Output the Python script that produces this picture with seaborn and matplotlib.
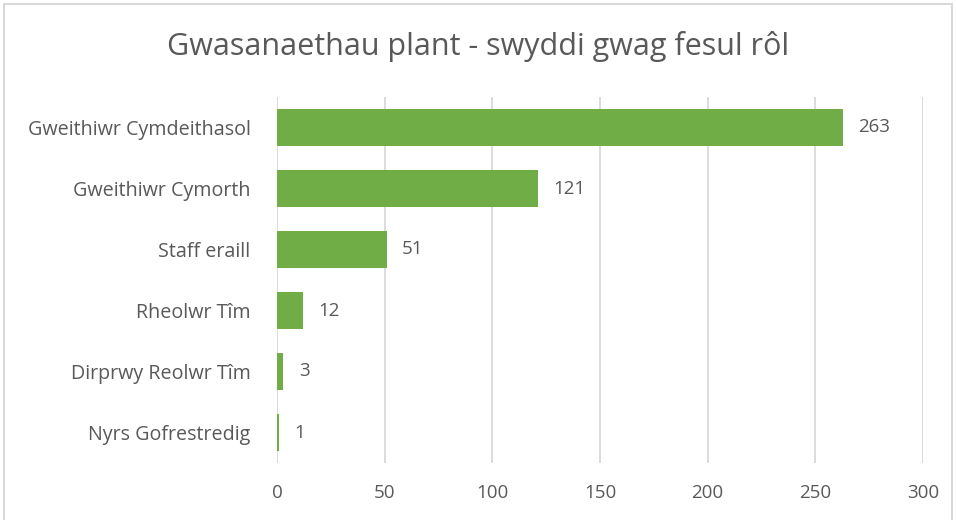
import matplotlib
matplotlib.use("Agg")
import matplotlib.pyplot as plt
import seaborn as sns
import pandas as pd
from matplotlib.patches import Rectangle

roles = ["Gweithiwr Cymdeithasol", "Gweithiwr Cymorth", "Staff eraill",
         "Rheolwr Tîm", "Dirprwy Reolwr Tîm", "Nyrs Gofrestredig"]
vacancies = [263, 121, 51, 12, 3, 1]
x_ticks = [0, 50, 100, 150, 200, 250, 300]

TEXT = "#595959"
GREEN = "#70AD47"
GRID = "#D9D9D9"

sns.set_theme(style="white")
plt.rcParams['font.family'] = ['Open Sans', 'DejaVu Sans']

df = pd.DataFrame({"role": roles, "count": vacancies})

fig = plt.figure(figsize=(9.56, 5.2), dpi=100)
ax = fig.add_axes([277 / 956, 1 - 463 / 520, 646 / 956, 366 / 520])

sns.barplot(data=df, x="count", y="role", color=GREEN, width=0.62,
            saturation=1, ax=ax, order=roles, linewidth=0)

ax.set_xlim(0, 300)
ax.set_xticks(x_ticks)
ax.set_xlabel("")
ax.set_ylabel("")
ax.xaxis.grid(True, color=GRID, linewidth=1.3)
ax.set_axisbelow(True)
sns.despine(ax=ax, left=True, bottom=True, top=True, right=True)
ax.tick_params(axis="x", length=0, pad=15, labelsize=13.5, labelcolor=TEXT)
ax.tick_params(axis="y", length=0, pad=19, labelsize=14.2, labelcolor=TEXT)

ax.bar_label(ax.containers[0], padding=11, fontsize=13.5, color=TEXT)

fig.text(0.5, 1 - 47 / 520, "Gwasanaethau plant - swyddi gwag fesul rôl",
         ha="center", va="center", fontsize=22, color=TEXT)

fig.patches.append(Rectangle((4 / 956, -0.01), 948 / 956, 1 - 4 / 520 + 0.01,
                             transform=fig.transFigure, fill=False,
                             edgecolor=GRID, linewidth=1.5))

fig.savefig("out.png", dpi=100)
